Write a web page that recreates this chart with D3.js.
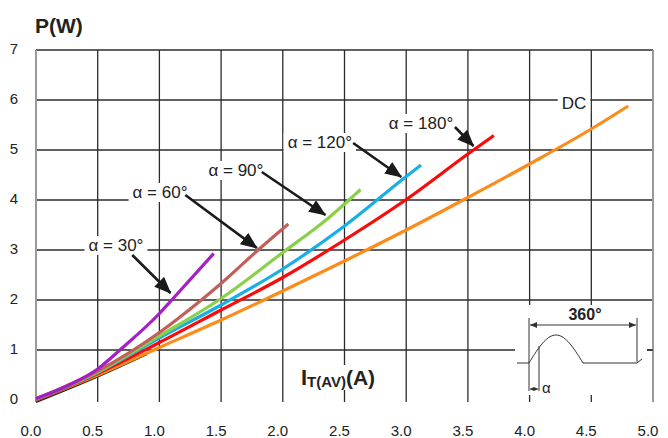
<!DOCTYPE html>
<html>
<head>
<meta charset="utf-8">
<script src="https://cdn.jsdelivr.net/npm/d3@7"></script>
<style>
  body { margin: 0; background: #fff; }
  text { font-family: "Liberation Sans", Arial, sans-serif; }
</style>
</head>
<body>
<script>
// values
var xTicks = [0.0, 0.5, 1.0, 1.5, 2.0, 2.5, 3.0, 3.5, 4.0, 4.5, 5.0];
var yTicks = [0, 1, 2, 3, 4, 5, 6, 7];

var seriesNames = ["α = 30°", "α = 60°", "α = 90°", "α = 120°", "α = 180°", "DC"];

var current30 = [0, 0.25, 0.5, 0.68, 1.0, 1.1, 1.44];
var power30 = [0.03, 0.28, 0.62, 1.0, 1.73, 2.0, 2.93];

var current60 = [0, 0.5, 1.0, 1.34, 1.5, 1.8, 2.045];
var power60 = [0.02, 0.58, 1.35, 2.0, 2.33, 3.0, 3.52];

var current90 = [0, 0.5, 1.0, 1.5, 2.0, 2.36, 2.63];
var power90 = [0.02, 0.56, 1.28, 2.03, 2.95, 3.62, 4.21];

var current120 = [0, 0.5, 1.0, 1.5, 2.0, 2.5, 3.0, 3.12];
var power120 = [0.01, 0.55, 1.24, 1.9, 2.62, 3.48, 4.47, 4.7];

var current180 = [0, 0.5, 1.0, 1.5, 2.0, 2.5, 3.0, 3.5, 3.71];
var power180 = [0.0, 0.53, 1.15, 1.8, 2.45, 3.2, 4.01, 4.92, 5.29];

var currentDC = [0, 0.5, 1.0, 1.5, 2.0, 2.5, 3.0, 3.5, 4.0, 4.5, 4.8];
var powerDC = [0.0, 0.5, 1.05, 1.6, 2.18, 2.78, 3.4, 4.05, 4.72, 5.42, 5.88];

// thin dark trace visible under the bunch near the origin
var currentBase = [0, 0.5, 0.9];
var powerBase = [-0.04, 0.47, 0.92];

var svgWidth = 668;
var svgHeight = 438;
var margin = { top: 50, right: 15, bottom: 38, left: 36 };
var width = 653 - margin.left;
var height = 400 - margin.top;

var colors = ["#a520c2", "#c1605a", "#8ccf4b", "#1aaee6", "#fb0a0a", "#fb8c1c"];

var svg = d3.select("body")
    .append("svg")
    .attr("width", svgWidth)
    .attr("height", svgHeight);

var x = d3.scaleLinear().domain([0, 5]).range([margin.left, margin.left + width]);
var y = d3.scaleLinear().domain([0, 7]).range([margin.top + height, margin.top]);

// grid
var grid = svg.append("g");
grid.selectAll(".vline")
    .data(xTicks.filter(d => d > 0 && d < 5))
    .enter().append("line")
    .attr("x1", d => x(d)).attr("x2", d => x(d))
    .attr("y1", y(7)).attr("y2", y(0) + 2)
    .attr("stroke", "#2b2b2b").attr("stroke-width", 1.3);

grid.selectAll(".hline")
    .data(yTicks.filter(d => d > 0))
    .enter().append("line")
    .attr("x1", x(0)).attr("x2", x(5))
    .attr("y1", d => y(d)).attr("y2", d => y(d))
    .attr("stroke", "#2b2b2b").attr("stroke-width", 1.3);

// left / right borders
[0, 5].forEach(function(v) {
    grid.append("line")
        .attr("x1", x(v)).attr("x2", x(v))
        .attr("y1", y(7)).attr("y2", y(0) + 2)
        .attr("stroke", "#9a9a9a").attr("stroke-width", 2);
});

// tick labels
svg.append("g").selectAll("text")
    .data(xTicks)
    .enter().append("text")
    .attr("x", d => x(d) - 5)
    .attr("y", 436)
    .attr("text-anchor", "middle")
    .attr("font-size", 15)
    .attr("fill", "#222")
    .text(d => d.toFixed(1));

svg.append("g").selectAll("text")
    .data(yTicks)
    .enter().append("text")
    .attr("x", 14)
    .attr("y", d => y(d) + 4)
    .attr("text-anchor", "middle")
    .attr("font-size", 15)
    .attr("fill", "#222")
    .text(d => d);

svg.append("text")
    .attr("x", 35).attr("y", 33)
    .attr("font-size", 21).attr("font-weight", "bold")
    .attr("fill", "#222")
    .text("P(W)");

// label with white box behind it
function boxedLabel(g, cx, cy, build, pad) {
    var t = build(g.append("text"));
    var bb = t.node().getBBox();
    t.attr("x", cx - bb.width / 2).attr("y", cy);
    bb = t.node().getBBox();
    g.insert("rect", "text")
        .attr("x", bb.x - pad).attr("y", bb.y)
        .attr("width", bb.width + 2 * pad).attr("height", bb.height)
        .attr("fill", "#fff");
    return t;
}

// x axis label
var xl = svg.append("g");
boxedLabel(xl, 338, 385, function(t) {
    t.attr("font-weight", "bold").attr("fill", "#222");
    t.append("tspan").attr("font-size", 22).text("I");
    t.append("tspan").attr("font-size", 15).attr("dy", 2).text("T(AV)");
    t.append("tspan").attr("font-size", 21).attr("dy", -2).text("(A)");
    return t;
}, 3);

// curves
var line = d3.line()
    .x(d => x(d[0]))
    .y(d => y(d[1]))
    .curve(d3.curveMonotoneX);

var zipped = function(a, b) { return a.map((v, i) => [v, b[i]]); };

svg.append("path")
    .attr("d", line(zipped(currentBase, powerBase)))
    .attr("fill", "none").attr("stroke", "#222").attr("stroke-width", 2);

var allSeries = [
    zipped(currentDC, powerDC),
    zipped(current180, power180),
    zipped(current120, power120),
    zipped(current90, power90),
    zipped(current60, power60),
    zipped(current30, power30)
];
var seriesColors = colors.slice().reverse();

svg.append("g").selectAll("path")
    .data(allSeries)
    .enter().append("path")
    .attr("d", d => line(d))
    .attr("fill", "none")
    .attr("stroke", (d, i) => seriesColors[i])
    .attr("stroke-width", 3.2)
    .attr("stroke-linecap", "butt");

// annotations (positions in data units)
var annotations = [
    { text: seriesNames[0], at: [0.648, 3.1], from: [0.78, 2.9], to: [1.09, 2.14] },
    { text: seriesNames[1], at: [1.005, 4.16], from: [1.21, 4.1], to: [1.79, 3.04] },
    { text: seriesNames[2], at: [1.62, 4.6], from: [1.83, 4.56], to: [2.345, 3.7] },
    { text: seriesNames[3], at: [2.3, 5.16], from: [2.57, 5.14], to: [2.96, 4.46] },
    { text: seriesNames[4], at: [3.12, 5.54], from: [3.395, 5.46], to: [3.545, 5.08] },
    { text: seriesNames[5], at: [4.36, 5.94] }
];

var defs = svg.append("defs");
defs.append("marker")
    .attr("id", "head")
    .attr("markerUnits", "userSpaceOnUse")
    .attr("markerWidth", 18).attr("markerHeight", 14)
    .attr("refX", 16).attr("refY", 7)
    .attr("orient", "auto")
    .append("path")
    .attr("d", "M0,0 L17,7 L0,14 Z")
    .attr("fill", "#1a1a1a");

var ann = svg.append("g");
annotations.forEach(function(a) {
    var g = ann.append("g");
    boxedLabel(g, x(a.at[0]), y(a.at[1]) + 6, function(t) {
        return t.attr("font-size", 17).attr("fill", "#222").text(a.text);
    }, 4);
    if (a.from) {
        ann.append("line")
            .attr("x1", x(a.from[0])).attr("y1", y(a.from[1]))
            .attr("x2", x(a.to[0])).attr("y2", y(a.to[1]))
            .attr("stroke", "#1a1a1a").attr("stroke-width", 2.6)
            .attr("marker-end", "url(#head)");
    }
});

// inset: conduction angle sketch
var inset = svg.append("g");
inset.append("rect")
    .attr("x", 515).attr("y", 305)
    .attr("width", 132).attr("height", 90)
    .attr("fill", "#fff");
inset.append("line")
    .attr("x1", 647).attr("x2", 653).attr("y1", y(1)).attr("y2", y(1))
    .attr("stroke", "#2b2b2b").attr("stroke-width", 1.3);

var x0 = 529, x360 = 637, base = 363, amp = 28, xa = 539;
var stroke = "#333";
var sine = d3.range(0, 181, 5).map(function(deg) {
    return [x0 + (x360 - x0) * deg / 360, base - amp * Math.sin(deg * Math.PI / 180)];
});
var wave = d3.line().x(d => d[0]).y(d => d[1]);
inset.append("line").attr("x1", 517).attr("x2", x0).attr("y1", base).attr("y2", base)
    .attr("stroke", stroke).attr("stroke-width", 1);
inset.append("path").attr("d", wave(sine)).attr("fill", "none")
    .attr("stroke", stroke).attr("stroke-width", 1);
inset.append("line").attr("x1", (x0 + x360) / 2).attr("x2", x360).attr("y1", base).attr("y2", base)
    .attr("stroke", stroke).attr("stroke-width", 1);
inset.append("line").attr("x1", x360).attr("x2", x360 + 5).attr("y1", base).attr("y2", base - 4)
    .attr("stroke", stroke).attr("stroke-width", 1);
// extension lines
inset.append("line").attr("x1", x0).attr("x2", x0).attr("y1", 318).attr("y2", 391)
    .attr("stroke", stroke).attr("stroke-width", 1);
inset.append("line").attr("x1", x360).attr("x2", x360).attr("y1", 318).attr("y2", 362)
    .attr("stroke", stroke).attr("stroke-width", 1);
inset.append("line").attr("x1", xa).attr("x2", xa).attr("y1", 346).attr("y2", 391)
    .attr("stroke", stroke).attr("stroke-width", 1);

defs.append("marker")
    .attr("id", "dim")
    .attr("markerUnits", "userSpaceOnUse")
    .attr("markerWidth", 8).attr("markerHeight", 6)
    .attr("refX", 7).attr("refY", 3)
    .attr("orient", "auto-start-reverse")
    .append("path").attr("d", "M0,0 L7,3 L0,6 Z").attr("fill", stroke);
defs.append("marker")
    .attr("id", "dimS")
    .attr("markerUnits", "userSpaceOnUse")
    .attr("markerWidth", 5).attr("markerHeight", 4)
    .attr("refX", 4).attr("refY", 2)
    .attr("orient", "auto-start-reverse")
    .append("path").attr("d", "M0,0 L4,2 L0,4 Z").attr("fill", stroke);

inset.append("line").attr("x1", x0 + 1).attr("x2", x360 - 1).attr("y1", 325).attr("y2", 325)
    .attr("stroke", stroke).attr("stroke-width", 1)
    .attr("marker-start", "url(#dim)").attr("marker-end", "url(#dim)");
inset.append("line").attr("x1", x0 + 1).attr("x2", xa - 1).attr("y1", 389).attr("y2", 389)
    .attr("stroke", stroke).attr("stroke-width", 1)
    .attr("marker-start", "url(#dimS)").attr("marker-end", "url(#dimS)");

inset.append("text").attr("x", 585).attr("y", 320)
    .attr("text-anchor", "middle").attr("font-size", 16).attr("font-weight", "bold")
    .attr("fill", "#222").text("360°");
inset.append("text").attr("x", 542).attr("y", 393)
    .attr("font-size", 15).attr("fill", "#222").text("α");
</script>
</body>
</html>
